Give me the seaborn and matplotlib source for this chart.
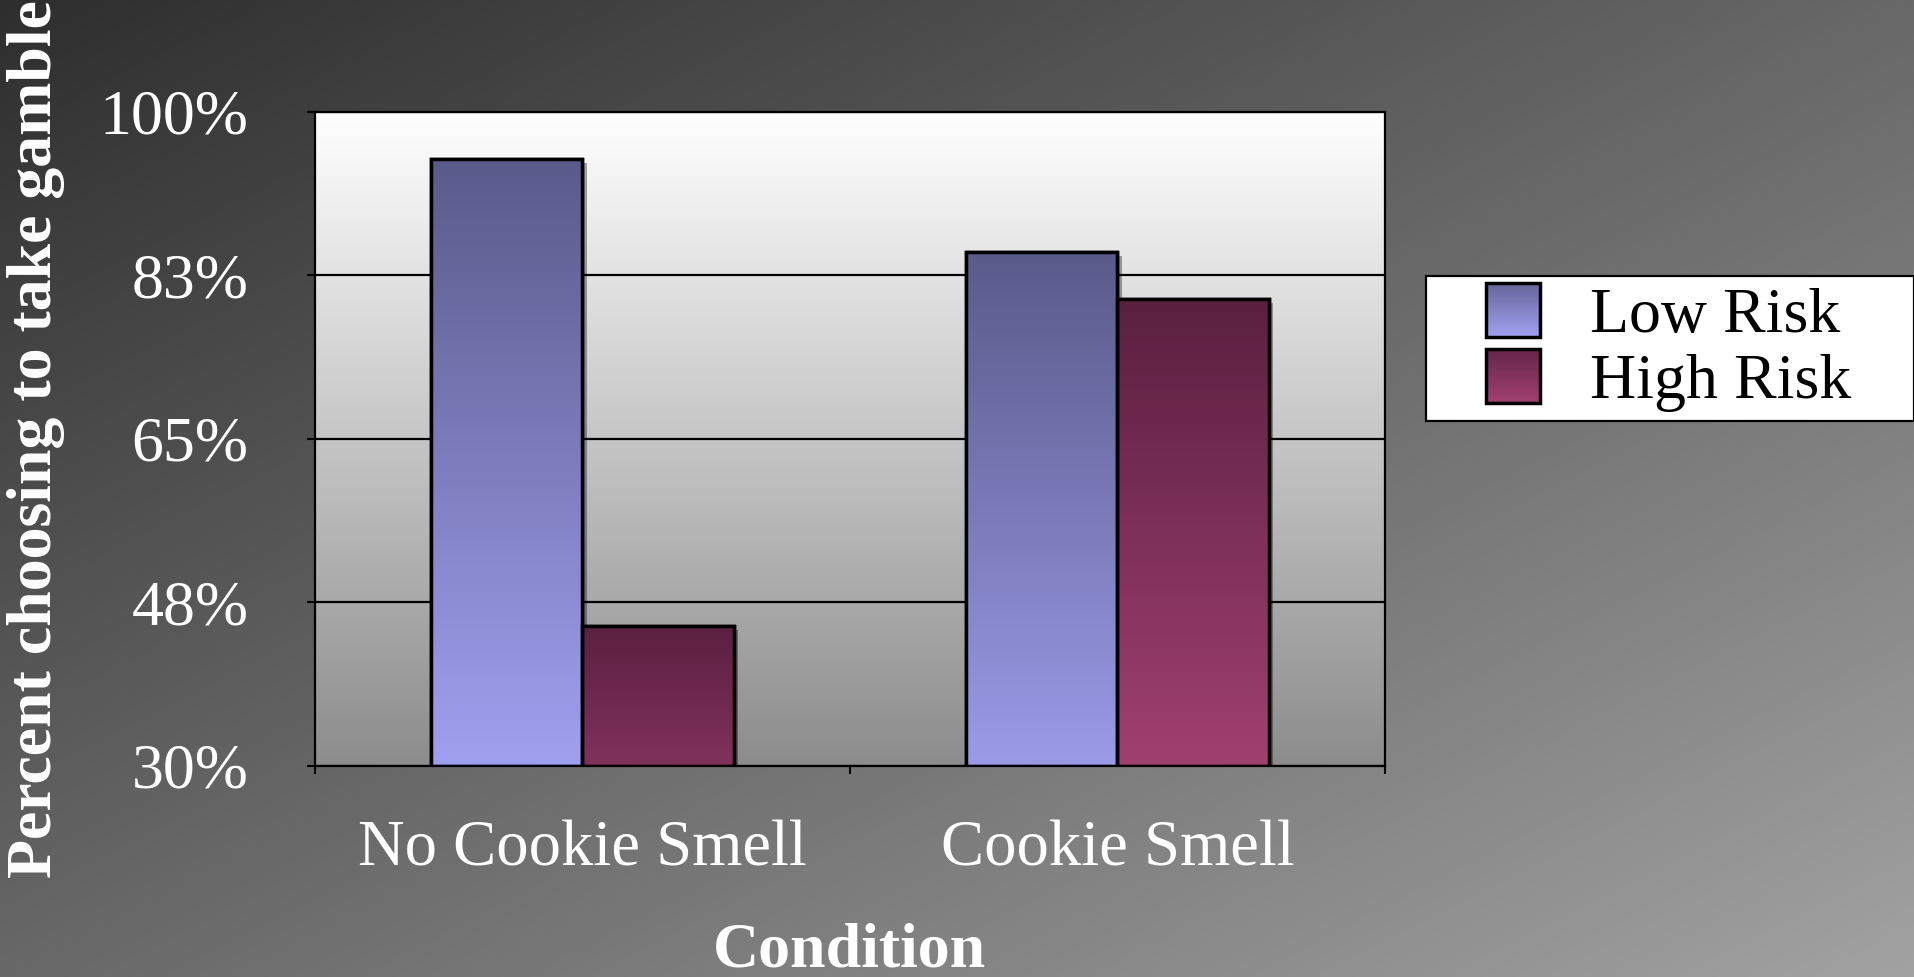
import numpy as np
import pandas as pd
import matplotlib
matplotlib.use("Agg")
import matplotlib.pyplot as plt
from matplotlib.patches import Rectangle
from matplotlib.legend_handler import HandlerBase
from matplotlib.colors import to_rgb
import matplotlib.patheffects as pe
import seaborn as sns

# ---- data -------------------------------------------------------------
conditions = ["No Cookie Smell", "Cookie Smell"]
risk_levels = ["Low Risk", "High Risk"]
low_risk = [0.95, 0.85]
high_risk = [0.45, 0.80]
y_tick_labels = ["30%", "48%", "65%", "83%", "100%"]

# gradient end colours per series (top, bottom)
series_colors = {
    "Low Risk": ("#5a5a8a", "#a0a0f0"),
    "High Risk": ("#5a2040", "#a04070"),
}

df = pd.DataFrame({
    "Condition": conditions * 2,
    "Risk": [risk_levels[0]] * len(conditions) + [risk_levels[1]] * len(conditions),
    "Percent": low_risk + high_risk,
})

sns.set_theme(style="white")
plt.rcParams["font.family"] = ["Liberation Serif", "DejaVu Serif"]

fig = plt.figure(figsize=(19.15, 9.77), dpi=100)

# diagonal dark-to-light slide background
bg = fig.add_axes([0, 0, 1, 1], zorder=-5)
gx, gy = np.meshgrid(np.linspace(0, 1, 400), np.linspace(0, 1, 200))
shade = (46 + 58 * gx + 58 * gy) / 255.0
bg.imshow(np.dstack([shade] * 3), aspect="auto", extent=[0, 1, 0, 1], origin="upper")
bg.set_axis_off()

ax = fig.add_axes([0.1645, 0.2160, 0.5587, 0.6694])
ax.patch.set_visible(False)

sns.barplot(data=df, x="Condition", y="Percent", hue="Risk",
            order=conditions, hue_order=risk_levels,
            palette=[series_colors[r][1] for r in risk_levels],
            width=0.565, saturation=1, edgecolor="black", linewidth=2.5,
            legend=False, ax=ax)

y_min, y_max = 0.30, 1.00
ax.set_xlim(-0.5, len(conditions) - 0.5)
ax.set_ylim(y_min, y_max)

# plot area: white at top fading to grey
pg = np.linspace(1.0, 0.55, 256)[:, None]
ax.imshow(np.dstack([pg] * 3), extent=[0, 1, 0, 1], transform=ax.transAxes,
          aspect="auto", zorder=0)


def blend(c1, c2, t):
    a, b = np.array(to_rgb(c1)), np.array(to_rgb(c2))
    return a + (b - a) * t


# vertical gradient fill over the visible part of every bar
for container, risk in zip(ax.containers, risk_levels):
    top_c, bot_c = series_colors[risk]
    vis = [b.get_y() + b.get_height() - max(b.get_y(), y_min) for b in container]
    hmax = max(vis)
    for bar, hv in zip(container, vis):
        x, w = bar.get_x(), bar.get_width()
        y0 = max(bar.get_y(), y_min)
        y1 = bar.get_y() + bar.get_height()
        reach = np.sqrt(hv / hmax)
        t = np.linspace(0, reach, 256)
        a, b = np.array(to_rgb(top_c)), np.array(to_rgb(bot_c))
        img = a[None, :] + (b - a)[None, :] * t[:, None]
        img = np.repeat(img[:, None, :], 2, axis=1)
        bar.set_path_effects([pe.SimplePatchShadow(offset=(3, -3), shadow_rgbFace="black", alpha=0.35),
                              pe.Normal()])
        ax.imshow(img, extent=[x, x + w, y0, y1], aspect="auto",
                  origin="upper", zorder=bar.get_zorder() + 0.1)
        ax.add_patch(Rectangle((x, y0), w, y1 - y0, fill=False, edgecolor="black",
                               linewidth=2.5, zorder=bar.get_zorder() + 0.2))

ax.set_xlim(-0.5, len(conditions) - 0.5)
ax.set_ylim(y_min, y_max)
ax.set_aspect("auto")

# axes styling
ax.set_axisbelow(True)
ax.yaxis.grid(True, color="black", linewidth=1.6)
ax.xaxis.grid(False)
for s in ax.spines.values():
    s.set_visible(True)
    s.set_color("black")
    s.set_linewidth(1.6)

ax.set_yticks(np.linspace(y_min, y_max, len(y_tick_labels)), labels=y_tick_labels)
ax.tick_params(axis="y", which="major", direction="out", length=6, width=1.5,
               color="black", pad=42, labelsize=46, labelcolor="white", left=True)
ax.set_xticks(range(len(conditions)), labels=conditions)
ax.set_xticks(np.arange(-0.5, len(conditions)), minor=True)
ax.tick_params(axis="x", which="major", length=0, pad=39, labelsize=46.5,
               labelcolor="white", bottom=True)
ax.tick_params(axis="x", which="minor", direction="out", length=6, width=1.5,
               color="black", bottom=True)

ax.set_xlabel("Condition", fontsize=46, fontweight="bold", color="white", labelpad=31)
ax.set_ylabel("Percent choosing to take gamble", fontsize=46, fontweight="bold",
              color="white", labelpad=25)


# legend with gradient swatches
class GradientKey:
    def __init__(self, top, bottom):
        self.top, self.bottom = top, bottom


class GradientHandler(HandlerBase):
    def create_artists(self, legend, orig_handle, xdescent, ydescent, width,
                       height, fontsize, trans):
        side = 0.845 * fontsize
        x0 = -xdescent + width - side
        y0 = -ydescent + (height - side) / 2
        n = 30
        arts = []
        for i in range(n):
            c = blend(orig_handle.top, orig_handle.bottom, 0.15 + 0.85 * (i + 0.5) / n)
            arts.append(Rectangle((x0, y0 + side * (1 - (i + 1) / n)), side, side / n + 0.3,
                                  facecolor=c, edgecolor="none", transform=trans))
        arts.append(Rectangle((x0, y0), side, side, fill=False, edgecolor="black",
                              linewidth=2.5, transform=trans))
        return arts


keys = [GradientKey(*series_colors[r]) for r in risk_levels]
leg = fig.legend(keys, risk_levels, handler_map={GradientKey: GradientHandler()},
                 loc="upper left",
                 bbox_to_anchor=(1426 / 1915, 1 - 276 / 977, (1914 - 1426) / 1915, 0.0),
                 mode="expand", borderaxespad=0, fontsize=46,
                 handlelength=1.66, handleheight=0.845, handletextpad=0.77,
                 labelspacing=0.08, borderpad=0.13, fancybox=False, framealpha=1,
                 facecolor="white", edgecolor="black")
leg.get_frame().set_linewidth(1.6)
for t in leg.get_texts():
    t.set_color("black")

fig.savefig("out.png", dpi=100)
